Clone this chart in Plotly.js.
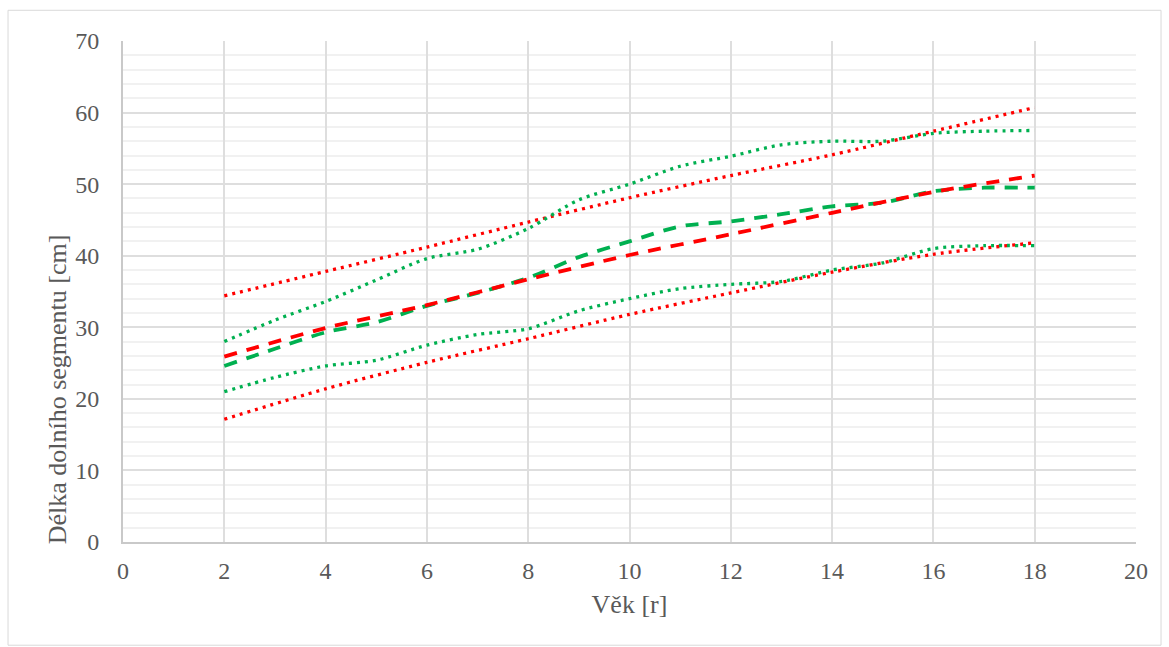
<!DOCTYPE html>
<html>
<head>
<meta charset="utf-8">
<script src="https://cdn.plot.ly/plotly-3.0.1.min.js"></script>
<style>
  html, body { margin: 0; padding: 0; background: #ffffff; }
  #chart { width: 1169px; height: 647px; }
</style>
</head>
<body>
<div id="chart"></div>
<script>
// Věk (roky) pro měřené skupiny a pro referenční hodnoty
const vekMereni = [2, 3, 4, 5, 6, 7, 8, 9, 10, 11, 12, 13, 14, 15, 16, 17, 18];
const vekReference = [2, 4, 6, 8, 10, 12, 14, 16, 18];

// Naměřené hodnoty délky dolního segmentu [cm]
const mereniHorni = [28.0, 31.0, 33.6, 36.6, 39.6, 40.9, 43.8, 47.8, 50.0, 52.5, 53.9, 55.5, 56.0, 56.0, 57.1, 57.4, 57.5];
const mereniPrumer = [24.6, 27.0, 29.3, 30.7, 33.0, 34.8, 36.9, 39.8, 42.0, 44.1, 44.8, 45.8, 46.9, 47.4, 49.0, 49.5, 49.5];
const mereniDolni = [21.0, 23.0, 24.6, 25.4, 27.5, 29.0, 29.8, 32.3, 34.0, 35.4, 36.0, 36.4, 38.0, 39.0, 41.0, 41.4, 41.4];

// Referenční hodnoty
const referenceHorni = [34.4, 37.8, 41.2, 44.7, 48.1, 51.2, 54.1, 57.4, 60.7];
const referencePrumer = [25.9, 29.9, 33.1, 36.7, 40.1, 43.0, 46.0, 48.9, 51.2];
const referenceDolni = [17.15, 21.4, 25.1, 28.4, 31.8, 34.8, 37.7, 40.2, 41.8];

const zelena = '#00B050';
const cervena = '#FF0000';
const tecky = '3px,5px';
const carky = '13px,10px';

function rada(x, y, barva, dash, sirka) {
  return {
    x: x, y: y, type: 'scatter', mode: 'lines',
    line: { color: barva, width: sirka, dash: dash, shape: 'spline', smoothing: 0.8 },
    hoverinfo: 'x+y', showlegend: false
  };
}

const data = [
  rada(vekReference, referenceHorni, cervena, tecky, 3.3),
  rada(vekReference, referenceDolni, cervena, tecky, 3.3),
  rada(vekMereni, mereniHorni, zelena, tecky, 3.3),
  rada(vekMereni, mereniDolni, zelena, tecky, 3.3),
  rada(vekMereni, mereniPrumer, zelena, carky, 3.8),
  rada(vekReference, referencePrumer, cervena, carky, 3.8)
];

const rodina = '"Liberation Serif", "Times New Roman", serif';
const sedaText = '#595959';

const layout = {
  width: 1169, height: 647,
  margin: { l: 123, r: 33, t: 41, b: 105 },
  paper_bgcolor: '#ffffff', plot_bgcolor: '#ffffff',
  font: { family: rodina, color: sedaText },
  xaxis: {
    range: [0, 20], dtick: 2, tick0: 0,
    showgrid: true, gridcolor: '#dedede', gridwidth: 2,
    zeroline: false, showline: true, linecolor: '#c9c9c9', linewidth: 2,
    ticks: '', ticklabelstandoff: 6,
    tickfont: { family: rodina, size: 24, color: sedaText },
    title: { text: 'Věk [r]', font: { family: rodina, size: 26, color: sedaText }, standoff: 12 }
  },
  yaxis: {
    range: [0, 70], dtick: 10, tick0: 0,
    showgrid: true, gridcolor: '#dedede', gridwidth: 2,
    minor: { dtick: 2, showgrid: true, gridcolor: '#f1f1f1', gridwidth: 2 },
    zeroline: false, showline: true, linecolor: '#c9c9c9', linewidth: 2,
    ticks: '', ticklabelstandoff: 17,
    tickfont: { family: rodina, size: 24, color: sedaText }
  },
  annotations: [{
    text: 'Délka dolního segmentu [cm]',
    xref: 'paper', yref: 'paper', x: -0.065, y: 0.305,
    xanchor: 'center', yanchor: 'middle', textangle: -90, showarrow: false,
    font: { family: rodina, size: 26, color: sedaText }
  }],
  shapes: [{
    type: 'rect', xref: 'paper', yref: 'paper', layer: 'below',
    x0: -0.1135, x1: 1.0247, y0: -0.206, y1: 1.0613,
    line: { color: '#d9d9d9', width: 1 }, fillcolor: 'rgba(0,0,0,0)'
  }]
};

Plotly.newPlot('chart', data, layout, { displayModeBar: false, staticPlot: true });
</script>
</body>
</html>
